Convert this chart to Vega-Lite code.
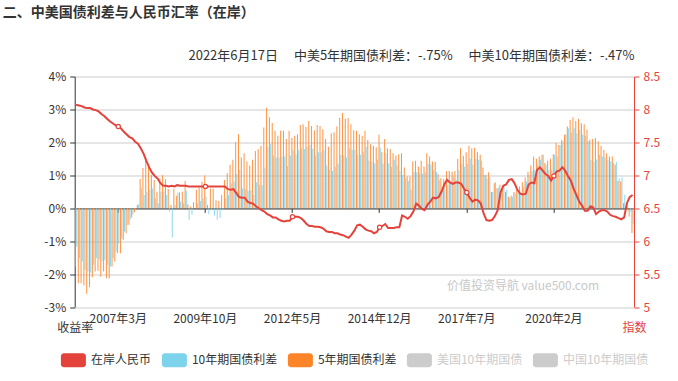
{
"$schema": "https://vega.github.io/schema/vega-lite/v6.json",
"width": 559.3,
"height": 230.5,
"autosize": {"type": "none"},
"padding": {"left": 74.7, "top": 76.5, "right": 44, "bottom": 74},
"background": "white",
"title": {"text": "二、中美国债利差与人民币汇率（在岸）", "anchor": "start", "frame": "group", "dx": -72, "offset": 29, "fontSize": 14, "fontWeight": "bold", "color": "#333333", "font": "Noto Sans CJK SC"},
"config": {
  "font": "Noto Sans CJK SC",
  "view": {"stroke": null},
  "axis": {"labelFont": "Noto Sans CJK SC", "titleFont": "Noto Sans CJK SC"},
  "legend": {"labelFont": "Noto Sans CJK SC"}
},
"datasets": {"d": [
{"m":"2005年12月","s5":-1.77,"s10":-1.17,"cny":8.07},
{"m":"2006年1月","s5":-2.28,"s10":-1.52,"cny":8.06},
{"m":"2006年2月","s5":-2.28,"s10":-1.62,"cny":8.05},
{"m":"2006年3月","s5":-2.35,"s10":-1.87,"cny":8.03},
{"m":"2006年4月","s5":-2.6,"s10":-1.92,"cny":8.02},
{"m":"2006年5月","s5":-2.4,"s10":-1.95,"cny":8.02},
{"m":"2006年6月","s5":-2.1,"s10":-1.72,"cny":8.0},
{"m":"2006年7月","s5":-1.92,"s10":-1.52,"cny":7.99},
{"m":"2006年8月","s5":-1.9,"s10":-1.55,"cny":7.97},
{"m":"2006年9月","s5":-2.08,"s10":-1.62,"cny":7.93},
{"m":"2006年10月","s5":-1.92,"s10":-1.58,"cny":7.9},
{"m":"2006年11月","s5":-2.13,"s10":-1.72,"cny":7.86},
{"m":"2006年12月","s5":-2.13,"s10":-1.77,"cny":7.82},
{"m":"2007年1月","s5":-1.77,"s10":-1.52,"cny":7.79},
{"m":"2007年2月","s5":-1.62,"s10":-1.32,"cny":7.76},
{"m":"2007年3月","s5":-1.37,"s10":-1.07,"cny":7.74},
{"m":"2007年4月","s5":-1.37,"s10":-0.91,"cny":7.71},
{"m":"2007年5月","s5":-0.96,"s10":-0.71,"cny":7.66},
{"m":"2007年6月","s5":-0.76,"s10":-0.51,"cny":7.62},
{"m":"2007年7月","s5":-0.5,"s10":-0.35,"cny":7.58},
{"m":"2007年8月","s5":-0.28,"s10":-0.2,"cny":7.56},
{"m":"2007年9月","s5":-0.12,"s10":-0.05,"cny":7.51},
{"m":"2007年10月","s5":0.1,"s10":0.12,"cny":7.48},
{"m":"2007年11月","s5":0.89,"s10":0.61,"cny":7.41},
{"m":"2007年12月","s5":1.22,"s10":0.4,"cny":7.33},
{"m":"2008年1月","s5":1.47,"s10":0.5,"cny":7.22},
{"m":"2008年2月","s5":1.32,"s10":0.56,"cny":7.12},
{"m":"2008年3月","s5":1.01,"s10":0.6,"cny":7.04},
{"m":"2008年4月","s5":0.86,"s10":0.3,"cny":6.99},
{"m":"2008年5月","s5":0.5,"s10":0.15,"cny":6.95},
{"m":"2008年6月","s5":0.91,"s10":0.5,"cny":6.88},
{"m":"2008年7月","s5":1.0,"s10":0.5,"cny":6.84},
{"m":"2008年8月","s5":0.88,"s10":0.4,"cny":6.84},
{"m":"2008年9月","s5":0.58,"s10":-0.1,"cny":6.83},
{"m":"2008年10月","s5":0.1,"s10":-0.89,"cny":6.84},
{"m":"2008年11月","s5":0.58,"s10":0.1,"cny":6.83},
{"m":"2008年12月","s5":0.38,"s10":0.48,"cny":6.85},
{"m":"2009年1月","s5":0.48,"s10":0.2,"cny":6.84},
{"m":"2009年2月","s5":0.5,"s10":0.15,"cny":6.84},
{"m":"2009年3月","s5":0.83,"s10":0.53,"cny":6.84},
{"m":"2009年4月","s5":0.12,"s10":-0.35,"cny":6.83},
{"m":"2009年5月","s5":0.05,"s10":-0.2,"cny":6.83},
{"m":"2009年6月","s5":0.18,"s10":0.0,"cny":6.83},
{"m":"2009年7月","s5":0.56,"s10":0.15,"cny":6.83},
{"m":"2009年8月","s5":0.63,"s10":0.22,"cny":6.83},
{"m":"2009年9月","s5":0.8,"s10":0.3,"cny":6.83},
{"m":"2009年10月","s5":0.99,"s10":0.35,"cny":6.83},
{"m":"2009年11月","s5":0.1,"s10":-0.18,"cny":6.83},
{"m":"2009年12月","s5":0.6,"s10":-0.05,"cny":6.83},
{"m":"2010年1月","s5":0.59,"s10":-0.22,"cny":6.83},
{"m":"2010年2月","s5":0.24,"s10":-0.35,"cny":6.83},
{"m":"2010年3月","s5":0.22,"s10":-0.3,"cny":6.83},
{"m":"2010年4月","s5":0.4,"s10":-0.05,"cny":6.83},
{"m":"2010年5月","s5":0.86,"s10":0.3,"cny":6.83},
{"m":"2010年6月","s5":1.06,"s10":0.4,"cny":6.79},
{"m":"2010年7月","s5":1.32,"s10":0.76,"cny":6.78},
{"m":"2010年8月","s5":1.47,"s10":0.81,"cny":6.79},
{"m":"2010年9月","s5":2.0,"s10":1.04,"cny":6.73},
{"m":"2010年10月","s5":2.25,"s10":1.16,"cny":6.67},
{"m":"2010年11月","s5":1.54,"s10":0.6,"cny":6.66},
{"m":"2010年12月","s5":1.67,"s10":0.58,"cny":6.66},
{"m":"2011年1月","s5":1.42,"s10":0.53,"cny":6.6},
{"m":"2011年2月","s5":1.3,"s10":0.55,"cny":6.58},
{"m":"2011年3月","s5":1.47,"s10":0.4,"cny":6.57},
{"m":"2011年4月","s5":1.74,"s10":0.79,"cny":6.53},
{"m":"2011年5月","s5":1.79,"s10":0.71,"cny":6.5},
{"m":"2011年6月","s5":1.9,"s10":0.7,"cny":6.47},
{"m":"2011年7月","s5":2.45,"s10":1.23,"cny":6.45},
{"m":"2011年8月","s5":3.05,"s10":1.87,"cny":6.41},
{"m":"2011年9月","s5":2.76,"s10":1.94,"cny":6.39},
{"m":"2011年10月","s5":2.59,"s10":1.6,"cny":6.36},
{"m":"2011年11月","s5":2.35,"s10":1.54,"cny":6.36},
{"m":"2011年12月","s5":2.2,"s10":1.54,"cny":6.33},
{"m":"2012年1月","s5":2.35,"s10":1.57,"cny":6.31},
{"m":"2012年2月","s5":2.35,"s10":1.57,"cny":6.3},
{"m":"2012年3月","s5":2.1,"s10":1.28,"cny":6.31},
{"m":"2012年4月","s5":2.35,"s10":1.6,"cny":6.31},
{"m":"2012年5月","s5":2.13,"s10":1.77,"cny":6.37},
{"m":"2012年6月","s5":2.2,"s10":1.64,"cny":6.37},
{"m":"2012年7月","s5":2.25,"s10":1.77,"cny":6.37},
{"m":"2012年8月","s5":2.53,"s10":1.82,"cny":6.35},
{"m":"2012年9月","s5":2.55,"s10":1.8,"cny":6.31},
{"m":"2012年10月","s5":2.47,"s10":1.87,"cny":6.26},
{"m":"2012年11月","s5":2.65,"s10":1.92,"cny":6.23},
{"m":"2012年12月","s5":2.5,"s10":1.8,"cny":6.23},
{"m":"2013年1月","s5":2.37,"s10":1.6,"cny":6.22},
{"m":"2013年2月","s5":2.53,"s10":1.7,"cny":6.22},
{"m":"2013年3月","s5":2.5,"s10":1.7,"cny":6.21},
{"m":"2013年4月","s5":2.4,"s10":1.77,"cny":6.19},
{"m":"2013年5月","s5":2.1,"s10":1.3,"cny":6.15},
{"m":"2013年6月","s5":1.87,"s10":1.16,"cny":6.14},
{"m":"2013年7月","s5":2.28,"s10":1.13,"cny":6.14},
{"m":"2013年8月","s5":2.31,"s10":1.26,"cny":6.12},
{"m":"2013年9月","s5":2.48,"s10":1.36,"cny":6.12},
{"m":"2013年10月","s5":2.75,"s10":1.62,"cny":6.1},
{"m":"2013年11月","s5":2.89,"s10":1.6,"cny":6.09},
{"m":"2013年12月","s5":2.72,"s10":1.54,"cny":6.07},
{"m":"2014年1月","s5":2.74,"s10":1.82,"cny":6.05},
{"m":"2014年2月","s5":2.55,"s10":1.77,"cny":6.1},
{"m":"2014年3月","s5":2.37,"s10":1.77,"cny":6.16},
{"m":"2014年4月","s5":2.35,"s10":1.62,"cny":6.24},
{"m":"2014年5月","s5":2.25,"s10":1.62,"cny":6.25},
{"m":"2014年6月","s5":2.2,"s10":1.7,"cny":6.22},
{"m":"2014年7月","s5":2.35,"s10":1.87,"cny":6.18},
{"m":"2014年8月","s5":2.07,"s10":1.45,"cny":6.16},
{"m":"2014年9月","s5":1.94,"s10":1.42,"cny":6.15},
{"m":"2014年10月","s5":1.9,"s10":1.36,"cny":6.12},
{"m":"2014年11月","s5":1.85,"s10":1.47,"cny":6.14},
{"m":"2014年12月","s5":2.23,"s10":1.84,"cny":6.21},
{"m":"2015年1月","s5":1.7,"s10":1.35,"cny":6.23},
{"m":"2015年2月","s5":2.1,"s10":1.67,"cny":6.26},
{"m":"2015年3月","s5":1.82,"s10":1.36,"cny":6.2},
{"m":"2015年4月","s5":1.8,"s10":1.26,"cny":6.2},
{"m":"2015年5月","s5":1.67,"s10":1.47,"cny":6.2},
{"m":"2015年6月","s5":1.6,"s10":1.3,"cny":6.21},
{"m":"2015年7月","s5":1.64,"s10":1.13,"cny":6.21},
{"m":"2015年8月","s5":1.67,"s10":1.01,"cny":6.39},
{"m":"2015年9月","s5":1.24,"s10":0.91,"cny":6.37},
{"m":"2015年10月","s5":0.96,"s10":0.83,"cny":6.34},
{"m":"2015年11月","s5":0.96,"s10":0.56,"cny":6.38},
{"m":"2015年12月","s5":1.42,"s10":1.1,"cny":6.45},
{"m":"2016年1月","s5":1.44,"s10":1.09,"cny":6.57},
{"m":"2016年2月","s5":1.27,"s10":1.06,"cny":6.54},
{"m":"2016年3月","s5":1.44,"s10":1.05,"cny":6.49},
{"m":"2016年4月","s5":1.27,"s10":1.09,"cny":6.47},
{"m":"2016年5月","s5":1.67,"s10":1.34,"cny":6.55},
{"m":"2016年6月","s5":1.57,"s10":1.32,"cny":6.6},
{"m":"2016年7月","s5":1.42,"s10":1.16,"cny":6.66},
{"m":"2016年8月","s5":1.4,"s10":1.1,"cny":6.65},
{"m":"2016年9月","s5":1.03,"s10":0.86,"cny":6.67},
{"m":"2016年10月","s5":0.91,"s10":0.56,"cny":6.75},
{"m":"2016年11月","s5":0.89,"s10":0.76,"cny":6.86},
{"m":"2016年12月","s5":1.12,"s10":0.7,"cny":6.93},
{"m":"2017年1月","s5":1.13,"s10":0.79,"cny":6.89},
{"m":"2017年2月","s5":1.11,"s10":0.96,"cny":6.87},
{"m":"2017年3月","s5":1.13,"s10":0.86,"cny":6.89},
{"m":"2017年4月","s5":1.5,"s10":1.16,"cny":6.89},
{"m":"2017年5月","s5":1.82,"s10":1.36,"cny":6.87},
{"m":"2017年6月","s5":1.59,"s10":1.26,"cny":6.8},
{"m":"2017年7月","s5":1.7,"s10":1.34,"cny":6.74},
{"m":"2017年8月","s5":1.9,"s10":1.52,"cny":6.66},
{"m":"2017年9月","s5":1.82,"s10":1.32,"cny":6.6},
{"m":"2017年10月","s5":1.84,"s10":1.5,"cny":6.63},
{"m":"2017年11月","s5":1.7,"s10":1.47,"cny":6.62},
{"m":"2017年12月","s5":1.62,"s10":1.44,"cny":6.57},
{"m":"2018年1月","s5":1.24,"s10":1.01,"cny":6.42},
{"m":"2018年2月","s5":1.02,"s10":0.91,"cny":6.32},
{"m":"2018年3月","s5":1.09,"s10":0.94,"cny":6.31},
{"m":"2018年4月","s5":0.49,"s10":0.5,"cny":6.32},
{"m":"2018年5月","s5":0.76,"s10":0.79,"cny":6.38},
{"m":"2018年6月","s5":0.61,"s10":0.63,"cny":6.47},
{"m":"2018年7月","s5":0.71,"s10":0.51,"cny":6.74},
{"m":"2018年8月","s5":0.59,"s10":0.66,"cny":6.84},
{"m":"2018年9月","s5":0.5,"s10":0.56,"cny":6.86},
{"m":"2018年10月","s5":0.35,"s10":0.32,"cny":6.93},
{"m":"2018年11月","s5":0.38,"s10":0.35,"cny":6.94},
{"m":"2018年12月","s5":0.49,"s10":0.45,"cny":6.88},
{"m":"2019年1月","s5":0.56,"s10":0.46,"cny":6.78},
{"m":"2019年2月","s5":0.66,"s10":0.51,"cny":6.72},
{"m":"2019年3月","s5":0.79,"s10":0.66,"cny":6.71},
{"m":"2019年4月","s5":0.93,"s10":0.81,"cny":6.72},
{"m":"2019年5月","s5":1.11,"s10":1.01,"cny":6.86},
{"m":"2019年6月","s5":1.3,"s10":1.13,"cny":6.89},
{"m":"2019年7月","s5":1.57,"s10":1.16,"cny":6.88},
{"m":"2019年8月","s5":1.5,"s10":1.32,"cny":7.08},
{"m":"2019年9月","s5":1.57,"s10":1.47,"cny":7.12},
{"m":"2019年10月","s5":1.62,"s10":1.62,"cny":7.07},
{"m":"2019年11月","s5":1.37,"s10":1.32,"cny":7.02},
{"m":"2019年12月","s5":1.44,"s10":1.16,"cny":6.99},
{"m":"2020年1月","s5":1.5,"s10":1.16,"cny":6.92},
{"m":"2020年2月","s5":1.64,"s10":1.62,"cny":6.99},
{"m":"2020年3月","s5":1.98,"s10":1.57,"cny":7.06},
{"m":"2020年4月","s5":1.92,"s10":1.92,"cny":7.07},
{"m":"2020年5月","s5":2.08,"s10":2.03,"cny":7.12},
{"m":"2020年6月","s5":2.23,"s10":2.25,"cny":7.07},
{"m":"2020年7月","s5":2.48,"s10":2.43,"cny":6.99},
{"m":"2020年8月","s5":2.68,"s10":2.31,"cny":6.92},
{"m":"2020年9月","s5":2.76,"s10":2.43,"cny":6.8},
{"m":"2020年10月","s5":2.65,"s10":2.28,"cny":6.7},
{"m":"2020年11月","s5":2.72,"s10":2.38,"cny":6.6},
{"m":"2020年12月","s5":2.58,"s10":2.23,"cny":6.54},
{"m":"2021年1月","s5":2.55,"s10":2.2,"cny":6.46},
{"m":"2021年2月","s5":2.38,"s10":2.03,"cny":6.46},
{"m":"2021年3月","s5":2.08,"s10":1.47,"cny":6.53},
{"m":"2021年4月","s5":2.1,"s10":1.42,"cny":6.51},
{"m":"2021年5月","s5":2.13,"s10":1.47,"cny":6.41},
{"m":"2021年6月","s5":2.03,"s10":1.62,"cny":6.45},
{"m":"2021年7月","s5":1.9,"s10":1.57,"cny":6.47},
{"m":"2021年8月","s5":1.77,"s10":1.54,"cny":6.47},
{"m":"2021年9月","s5":1.67,"s10":1.47,"cny":6.45},
{"m":"2021年10月","s5":1.57,"s10":1.42,"cny":6.4},
{"m":"2021年11月","s5":1.57,"s10":1.37,"cny":6.38},
{"m":"2021年12月","s5":1.32,"s10":1.4,"cny":6.37},
{"m":"2022年1月","s5":0.83,"s10":0.91,"cny":6.35},
{"m":"2022年2月","s5":0.81,"s10":0.93,"cny":6.33},
{"m":"2022年3月","s5":0.15,"s10":0.4,"cny":6.36},
{"m":"2022年4月","s5":-0.05,"s10":0.1,"cny":6.58},
{"m":"2022年5月","s5":-0.25,"s10":-0.1,"cny":6.67},
{"m":"2022年6月","s5":-0.75,"s10":-0.47,"cny":6.7}
]},
"data": {"name": "d"},
"layer": [
  {"transform": [{"fold": ["s10", "s5"], "as": ["series", "value"]}],
   "mark": {"type": "bar", "opacity": 0.88},
   "encoding": {
     "x": {"field": "m", "type": "nominal", "sort": null,
       "scale": {"paddingInner": 0.2, "paddingOuter": 0.1, "domain": ["2005年12月","2006年1月","2006年2月","2006年3月","2006年4月","2006年5月","2006年6月","2006年7月","2006年8月","2006年9月","2006年10月","2006年11月","2006年12月","2007年1月","2007年2月","2007年3月","2007年4月","2007年5月","2007年6月","2007年7月","2007年8月","2007年9月","2007年10月","2007年11月","2007年12月","2008年1月","2008年2月","2008年3月","2008年4月","2008年5月","2008年6月","2008年7月","2008年8月","2008年9月","2008年10月","2008年11月","2008年12月","2009年1月","2009年2月","2009年3月","2009年4月","2009年5月","2009年6月","2009年7月","2009年8月","2009年9月","2009年10月","2009年11月","2009年12月","2010年1月","2010年2月","2010年3月","2010年4月","2010年5月","2010年6月","2010年7月","2010年8月","2010年9月","2010年10月","2010年11月","2010年12月","2011年1月","2011年2月","2011年3月","2011年4月","2011年5月","2011年6月","2011年7月","2011年8月","2011年9月","2011年10月","2011年11月","2011年12月","2012年1月","2012年2月","2012年3月","2012年4月","2012年5月","2012年6月","2012年7月","2012年8月","2012年9月","2012年10月","2012年11月","2012年12月","2013年1月","2013年2月","2013年3月","2013年4月","2013年5月","2013年6月","2013年7月","2013年8月","2013年9月","2013年10月","2013年11月","2013年12月","2014年1月","2014年2月","2014年3月","2014年4月","2014年5月","2014年6月","2014年7月","2014年8月","2014年9月","2014年10月","2014年11月","2014年12月","2015年1月","2015年2月","2015年3月","2015年4月","2015年5月","2015年6月","2015年7月","2015年8月","2015年9月","2015年10月","2015年11月","2015年12月","2016年1月","2016年2月","2016年3月","2016年4月","2016年5月","2016年6月","2016年7月","2016年8月","2016年9月","2016年10月","2016年11月","2016年12月","2017年1月","2017年2月","2017年3月","2017年4月","2017年5月","2017年6月","2017年7月","2017年8月","2017年9月","2017年10月","2017年11月","2017年12月","2018年1月","2018年2月","2018年3月","2018年4月","2018年5月","2018年6月","2018年7月","2018年8月","2018年9月","2018年10月","2018年11月","2018年12月","2019年1月","2019年2月","2019年3月","2019年4月","2019年5月","2019年6月","2019年7月","2019年8月","2019年9月","2019年10月","2019年11月","2019年12月","2020年1月","2020年2月","2020年3月","2020年4月","2020年5月","2020年6月","2020年7月","2020年8月","2020年9月","2020年10月","2020年11月","2020年12月","2021年1月","2021年2月","2021年3月","2021年4月","2021年5月","2021年6月","2021年7月","2021年8月","2021年9月","2021年10月","2021年11月","2021年12月","2022年1月","2022年2月","2022年3月","2022年4月","2022年5月","2022年6月"]},
       "axis": {"orient": "bottom", "offset": -98.6, "values": ["2007年3月","2009年10月","2012年5月","2014年12月","2017年7月","2020年2月"], "domain": true, "domainColor": "#333333", "domainWidth": 1, "ticks": true, "tickColor": "#333333", "tickSize": 4, "labelPadding": 101, "labelFontSize": 12, "labelColor": "#333333", "labelAngle": 0, "title": null, "grid": false}},
     "xOffset": {"field": "series", "scale": {"domain": ["s5", "s10"], "paddingInner": 0.2}},
     "y": {"field": "value", "type": "quantitative",
       "scale": {"domain": [-3, 4], "nice": false, "zero": false},
       "axis": {"orient": "left", "values": [-3,-2,-1,0,1,2,3,4], "labelExpr": "datum.value + '%'", "grid": true, "gridColor": "#cccccc", "gridWidth": 1, "domain": true, "domainColor": "#333333", "ticks": true, "tickColor": "#333333", "tickSize": 5, "labelPadding": 4, "labelFontSize": 12, "labelColor": "#333333", "title": "收益率", "titleAngle": 0, "titleX": 0, "titleY": 251, "titleAlign": "center", "titleBaseline": "middle", "titleFontSize": 12, "titleFontWeight": "normal", "titleColor": "#333333"}},
     "color": {"field": "series", "type": "nominal",
       "scale": {"domain": ["cny", "s10", "s5", "us10", "cn10"], "range": ["#e4433b", "#7ed3ec", "#fe8429", "#cccccc", "#cccccc"]},
       "legend": {"orient": "none", "legendX": -13.8, "legendY": 271, "direction": "horizontal", "title": null, "padding": 0,
         "symbolType": "M-0.76,-0.56L0.76,-0.56A0.24,0.24 0 0 1 1,-0.32L1,0.32A0.24,0.24 0 0 1 0.76,0.56L-0.76,0.56A0.24,0.24 0 0 1 -1,0.32L-1,-0.32A0.24,0.24 0 0 1 -0.76,-0.56Z",
         "symbolSize": 625, "symbolStrokeWidth": 0, "symbolOpacity": 1, "labelFontSize": 12, "labelOffset": 5, "columnPadding": 10, "labelColor": "#333333",
         "labelExpr": "datum.value == 'cny' ? '在岸人民币' : datum.value == 's10' ? '10年期国债利差' : datum.value == 's5' ? '5年期国债利差' : datum.value == 'us10' ? '美国10年期国债' : '中国10年期国债'",
         "encode": {"labels": {"update": {"fill": {"signal": "datum.value == 'us10' || datum.value == 'cn10' ? '#cccccc' : '#333333'"}}}}}}
   }},
  {"data": {"values": [{"m": "2019年3月", "v": -2.35, "t": "价值投资导航 value500.com"}]},
   "mark": {"type": "text", "fontSize": 12, "color": "#c8c8c8", "align": "center", "baseline": "middle"},
   "encoding": {
     "x": {"field": "m", "type": "nominal", "sort": null, "axis": null},
     "y": {"field": "v", "type": "quantitative", "scale": {"domain": [-3, 4], "nice": false, "zero": false}, "axis": null},
     "text": {"field": "t"}
   }},
  {"mark": {"type": "line", "color": "#e4433b", "strokeWidth": 2},
   "encoding": {
     "x": {"field": "m", "type": "nominal", "sort": null,
       "axis": {"orient": "top", "labels": false, "ticks": false, "domain": false, "grid": false, "title": "2022年6月17日　 中美5年期国债利差：-.75%　 中美10年期国债利差：-.47%", "titleX": 559.3, "titleY": -21.5, "titleAlign": "right", "titleBaseline": "middle", "titleFontSize": 13, "titleFontWeight": "normal", "titleColor": "#333333", "titleAngle": 0}},
     "y": {"field": "cny", "type": "quantitative",
       "scale": {"domain": [5, 8.5], "nice": false, "zero": false},
       "axis": {"orient": "right", "values": [5,5.5,6,6.5,7,7.5,8,8.5], "labelExpr": "'' + datum.value", "grid": false, "domain": true, "domainColor": "#e4433b", "ticks": true, "tickColor": "#e4433b", "tickSize": 5, "labelColor": "#e4433b", "labelPadding": 4, "labelFontSize": 12, "title": "指数", "titleAngle": 0, "titleX": 0, "titleY": 251, "titleAlign": "center", "titleBaseline": "middle", "titleFontSize": 12, "titleFontWeight": "normal", "titleColor": "#e4433b"}}
   }},
  {"transform": [{"filter": "indexof(['2007年3月','2009年10月','2012年5月','2014年12月','2017年7月','2020年2月'], datum.m) >= 0"}],
   "mark": {"type": "point", "shape": "circle", "filled": false, "fill": "white", "stroke": "#e4433b", "strokeWidth": 1.2, "size": 18, "opacity": 1},
   "encoding": {
     "x": {"field": "m", "type": "nominal", "sort": null, "axis": null},
     "y": {"field": "cny", "type": "quantitative", "scale": {"domain": [5, 8.5], "nice": false, "zero": false}, "axis": null}
   }}
],
"resolve": {"scale": {"y": "independent"}, "axis": {"x": "independent", "y": "independent"}}
}
